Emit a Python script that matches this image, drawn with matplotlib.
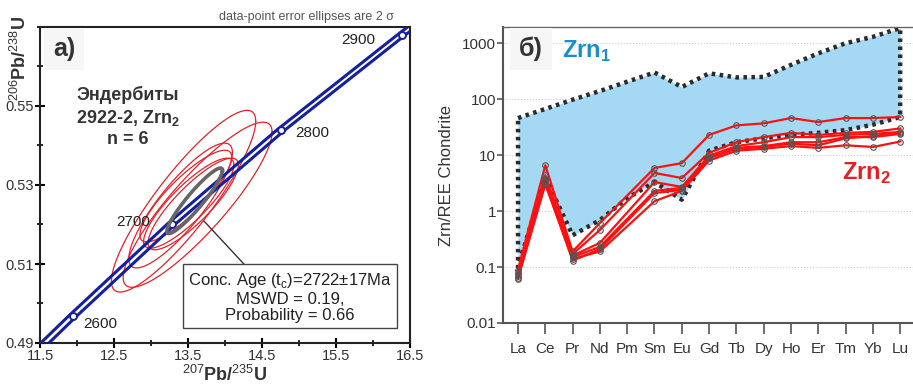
import numpy as np
import matplotlib
matplotlib.use("Agg")
import matplotlib.pyplot as plt

plt.rcParams['font.family'] = ['Liberation Sans', 'DejaVu Sans']
plt.rcParams['mathtext.fontset'] = 'custom'
plt.rcParams['mathtext.rm'] = 'Liberation Sans'
plt.rcParams['mathtext.bf'] = 'Liberation Sans:bold'

#============ Concordia data (a) ============
conc_x = [11.40, 11.94, 13.28, 14.76, 16.39, 16.60]
conc_y = [0.4870, 0.4968, 0.5202, 0.5440, 0.5681, 0.5711]
age_labels = ["2600", "2700", "2800", "2900"]
age_x = [11.94, 13.28, 14.76, 16.39]
age_y = [0.4968, 0.5202, 0.5440, 0.5681]

# error ellipses: centre, 2 sigma half-extents, correlation
ell_cx = [13.44, 13.63, 13.40, 13.51, 13.57, 13.47]
ell_cy = [0.5259, 0.5250, 0.5248, 0.5254, 0.5252, 0.5272]
ell_sx = [0.975, 1.006, 0.70, 0.61, 0.61, 0.62]
ell_sy = [0.0230, 0.0209, 0.0158, 0.0114, 0.0116, 0.0116]
ell_rho = [0.88, 0.88, 0.85, 0.85, 0.85, 0.85]

conc_age = dict(cx=13.59, cy=0.5260, sx=0.375, sy=0.0083, rho=0.93)

#============ REE data (б) ============
ree = ["La", "Ce", "Pr", "Nd", "Pm", "Sm", "Eu", "Gd", "Tb", "Dy", "Ho", "Er", "Tm", "Yb", "Lu"]
zrn1_upper = [46, 67, 98, 140, 205, 300, 165, 290, 245, 250, 410, 660, 1000, 1300, 1870]
zrn1_lower = [0.1, 4.0, 0.37, 0.69, 1.7, 3.3, 1.6, 12, 17, 20, 23, 25, 28, 35, 48]

# Pm not measured -> None
zrn2 = [
    [0.090, 6.6, 0.19, 0.61, None, 5.9, 7.2, 23, 34, 37, 46, 39, 46, 46, 48],
    [0.080, 4.4, 0.17, 0.46, None, 4.8, 3.9, 11, 17, 21, 25, 23, 25, 26, 30],
    [0.075, 3.8, 0.16, 0.27, None, 3.3, 2.7, 9.8, 14.5, 17, 21, 21, 23, 24, 26],
    [0.070, 3.4, 0.15, 0.23, None, 2.3, 2.6, 8.8, 13.5, 14.5, 17, 17, 21, 21, 24],
    [0.062, 3.2, 0.13, 0.21, None, 2.1, 2.4, 9.0, 13, 14, 16, 15, 20, 22, 25],
    [0.065, 3.0, 0.14, 0.19, None, 1.5, 2.3, 8.0, 12, 13, 14.5, 13.5, 15, 14, 17.5],
]

navy = '#1420a0'
red = '#e82028'
txt = '#333333'

fig = plt.figure(figsize=(9.13, 3.86), dpi=100)

#============ Panel a ============
ax = fig.add_axes([40/913, 43/386, 370/913, 316/386])
ax.set_xlim(11.5, 16.5)
ax.set_ylim(0.49, 0.57)

for i in range(len(ell_cx)):
    t = np.linspace(0, 2*np.pi, 300)
    ex = ell_cx[i] + ell_sx[i]*np.cos(t)
    ey = ell_cy[i] + ell_sy[i]*(ell_rho[i]*np.cos(t) + np.sqrt(1-ell_rho[i]**2)*np.sin(t))
    ax.plot(ex, ey, color=red, lw=0.9, zorder=2)

cx = np.array(conc_x)
cy = np.array(conc_y)
ax.plot(cx - 0.055, cy, color=navy, lw=2.2, zorder=3)
ax.plot(cx + 0.055, cy, color=navy, lw=2.2, zorder=3)
ax.plot(age_x, age_y, 'o', ms=5, mfc='white', mec=navy, mew=1.4, zorder=4)

t = np.linspace(0, 2*np.pi, 300)
gx = conc_age['cx'] + conc_age['sx']*np.cos(t)
gy = conc_age['cy'] + conc_age['sy']*(conc_age['rho']*np.cos(t) + np.sqrt(1-conc_age['rho']**2)*np.sin(t))
ax.plot(gx, gy, color='#666666', lw=2.6, zorder=5)

label_pos = [(100, 324), (133, 222), (312, 133), (358, 40)]
for lab, (px, py) in zip(age_labels, label_pos):
    fig.text(px/913, 1 - py/386, lab, fontsize=11, color='#222', ha='center', va='center')

ax.set_xticks([11.5, 12.5, 13.5, 14.5, 15.5, 16.5])
ax.set_xticks([12, 13, 14, 15, 16], minor=True)
ax.set_yticks([0.49, 0.51, 0.53, 0.55])
ax.set_yticklabels(['0.49', '0.51', '0.53', '0.55'])
ax.set_yticks([0.50, 0.52, 0.54, 0.56, 0.57], minor=True)
ax.tick_params(which='major', direction='inout', length=7, width=1.5, labelsize=10.5,
               labelcolor=txt, pad=1)
ax.tick_params(which='minor', direction='inout', length=4, width=1.2)
for s in ax.spines.values():
    s.set_linewidth(1.5)
    s.set_color('#222')

fig.text(225/913, 1 - 375/386, r'$^{207}$Pb/$^{235}$U', fontsize=13, fontweight='bold',
         color=txt, ha='center', va='center')
fig.text(20/913, 1 - 58/386, r'$^{206}$Pb/$^{238}$U', fontsize=13, fontweight='bold',
         color=txt, ha='center', va='center', rotation=90)
fig.text(306/913, 1 - 17/386, 'data-point error ellipses are 2 σ', fontsize=9,
         color='#555', ha='center', va='center')
fig.text(64/913, 1 - 49/386, 'а)', fontsize=18, fontweight='bold', color=txt,
         ha='center', va='center',
         bbox=dict(boxstyle='square,pad=0.35', fc='#f6f6f6', ec='none'))
fig.text(128/913, 1 - 117/386, 'Эндербиты\n2922-2, Zrn$_\\mathbf{2}$\nn = 6', fontsize=13,
         fontweight='bold', color=txt, ha='center', va='center', linespacing=1.25)

ax.plot([13.72, 14.28], [0.5208, 0.5095], color='#333', lw=1, zorder=6)
fig.text(290/913, 1 - 297/386,
         'Conc. Age (t$_\\mathrm{c}$)=2722±17Ma\nMSWD = 0.19,\nProbability = 0.66',
         fontsize=12, color='#222', ha='center', va='center', linespacing=1.15,
         bbox=dict(boxstyle='square,pad=0.3', fc='white', ec='#444', lw=1))

#============ Panel б ============
bx = fig.add_axes([503/913, 63/386, 410/913, 296/386])
xi = np.arange(len(ree))
bx.set_xlim(-0.55, 14.47)
bx.set_yscale('log')
bx.set_ylim(0.01, 1950)

bx.fill_between(xi, zrn1_lower, zrn1_upper, color='#a5d8f3', lw=0, zorder=1)
poly_x = list(xi) + list(xi[::-1]) + [xi[0]]
poly_y = zrn1_upper + zrn1_lower[::-1] + [zrn1_upper[0]]
bx.plot(poly_x, poly_y, color='#2b2b2b', lw=3.2, ls=(0, (0.8, 1.0)), zorder=2)

for s in zrn2:
    px = [i for i, v in enumerate(s) if v is not None]
    py = [v for v in s if v is not None]
    bx.plot(px, py, color='#ff1010', lw=1.6, zorder=3)
    bx.plot(px, py, 'o', ms=4, mfc='none', mec='#555', mew=0.8, zorder=4)

for v in [0.1, 1, 10, 100, 1000]:
    bx.axhline(v, color='#cccccc', lw=0.8, ls=':', zorder=0)

bx.set_xticks(xi)
bx.set_xticklabels(ree)
bx.set_yticks([0.01, 0.1, 1, 10, 100, 1000])
bx.set_yticklabels(['0.01', '0.1', '1', '10', '100', '1000'])
bx.minorticks_off()
bx.tick_params(axis='x', direction='out', length=8, width=1.2, color='#555',
               labelsize=11, labelcolor=txt, pad=6)
bx.tick_params(axis='y', direction='out', length=4, width=1.2, color='#555',
               labelsize=11, labelcolor=txt, pad=1)
bx.spines['right'].set_visible(False)
bx.spines['top'].set_color('#666')
bx.spines['top'].set_linewidth(1)
for k in ['left', 'bottom']:
    bx.spines[k].set_color('#555')
    bx.spines[k].set_linewidth(1.5)
bx.set_ylabel('Zrn/REE Chondrite', fontsize=12, color=txt, labelpad=6)

bx.text(2.5, 700, 'Zrn$_\\mathbf{1}$', fontsize=17, fontweight='bold', color='#1a8cd0',
        ha='center', va='center')
bx.text(12.75, 4.8, 'Zrn$_\\mathbf{2}$', fontsize=17, fontweight='bold', color='#e62020',
        ha='center', va='center')
fig.text(531/913, 1 - 49/386, 'б)', fontsize=18, fontweight='bold', color=txt,
         ha='center', va='center',
         bbox=dict(boxstyle='square,pad=0.35', fc='#f6f6f6', ec='none'))

fig.savefig('out.png', dpi=100)
